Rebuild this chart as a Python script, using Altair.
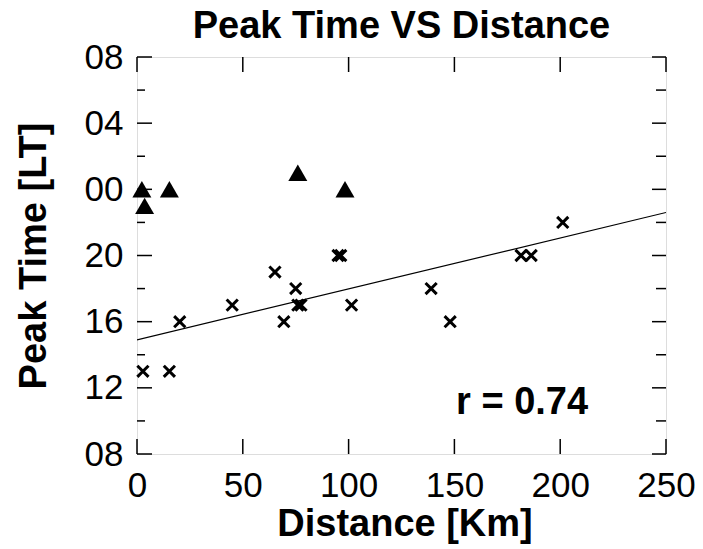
import altair as alt
import pandas as pd

# Crosses: distance [km], peak time [h, continuous from 08 to 32 = next-day 08]
cross_x = [2.8, 15.3, 20.2, 45.0, 65.2, 69.4, 75.0, 76.0, 77.5, 95.0, 96.3, 101.4, 139.0, 148.0, 181.5, 186.3, 201.2]
cross_y = [13, 13, 16, 17, 19, 16, 18, 17, 17, 20, 20, 17, 18, 16, 20, 20, 22]

# Triangles
tri_x = [2.3, 3.6, 15.3, 76.0, 98.3]
tri_y = [24, 23, 24, 25, 24]

# Regression line end points (as read)
line_x = [0, 250]
line_y = [14.9, 22.6]

# Tick values
x_tick_values = [0, 50, 100, 150, 200, 250]
y_major_values = [8, 12, 16, 20, 24, 28, 32]
y_minor_values = [10, 14, 18, 22, 26, 30]

# Annotation
ann_x = [182]
ann_y = [11.1]
ann_text = ["r = 0.74"]

W, H = 529, 397
FONT = "Liberation Sans"

xs = alt.Scale(domain=[0, 250], nice=False, zero=False)
ys = alt.Scale(domain=[8, 32], nice=False, zero=False)

cross_df = pd.DataFrame({"d": cross_x, "t": cross_y})
tri_df = pd.DataFrame({"d": tri_x, "t": tri_y})
line_df = pd.DataFrame({"d": line_x, "t": line_y})
ymaj_df = pd.DataFrame({"t": y_major_values})
ymin_df = pd.DataFrame({"t": y_minor_values})
xt_df = pd.DataFrame({"d": x_tick_values})
ann_df = pd.DataFrame({"d": ann_x, "t": ann_y, "s": ann_text})

xaxis = alt.Axis(values=x_tick_values, grid=False, ticks=False, domain=False,
                 labelFont=FONT, labelFontSize=35, labelColor="black", labelPadding=14,
                 labelFlush=False, title="Distance [Km]", titleFont=FONT, titleFontSize=38,
                 titleFontWeight="bold", titleColor="black", titleX=W / 2 + 3, titleY=81,
                 titleBaseline="alphabetic", titleAlign="center")
yaxis = alt.Axis(values=y_major_values, grid=False, ticks=False, domain=False,
                 labelFont=FONT, labelFontSize=35, labelColor="black", labelPadding=14,
                 labelFlush=False,
                 labelExpr="(datum.value % 24 < 10 ? '0' : '') + (datum.value % 24)",
                 title="Peak Time [LT]", titleFont=FONT, titleFontSize=38,
                 titleFontWeight="bold", titleColor="black", titleX=-103, titleY=H / 2,
                 titleBaseline="middle", titleAlign="center", titleAngle=270)

base_x = alt.X("d:Q", scale=xs, axis=xaxis)
base_y = alt.Y("t:Q", scale=ys, axis=yaxis)

line = alt.Chart(line_df).mark_line(color="black", strokeWidth=1.2, clip=True).encode(x=base_x, y=base_y)

crosses = alt.Chart(cross_df).mark_point(
    shape="M-1,-1L1,1M-1,1L1,-1", filled=False, stroke="black", strokeWidth=3,
    size=125, opacity=1).encode(x=alt.X("d:Q", scale=xs), y=alt.Y("t:Q", scale=ys))

tris = alt.Chart(tri_df).mark_point(
    shape="triangle-up", filled=True, color="black", size=360, opacity=1
).encode(x=alt.X("d:Q", scale=xs), y=alt.Y("t:Q", scale=ys))

ymaj_l = alt.Chart(ymaj_df).mark_rule(color="black", strokeWidth=1.5).encode(
    y=alt.Y("t:Q", scale=ys), x=alt.value(0), x2=alt.value(15))
ymaj_r = alt.Chart(ymaj_df).mark_rule(color="black", strokeWidth=1.5).encode(
    y=alt.Y("t:Q", scale=ys), x=alt.value(W - 14), x2=alt.value(W))
ymin_l = alt.Chart(ymin_df).mark_rule(color="black", strokeWidth=1.5).encode(
    y=alt.Y("t:Q", scale=ys), x=alt.value(0), x2=alt.value(8))
ymin_r = alt.Chart(ymin_df).mark_rule(color="black", strokeWidth=1.5).encode(
    y=alt.Y("t:Q", scale=ys), x=alt.value(W - 10), x2=alt.value(W))
xt_b = alt.Chart(xt_df).mark_rule(color="black", strokeWidth=1.5).encode(
    x=alt.X("d:Q", scale=xs), y=alt.value(H - 15), y2=alt.value(H))
xt_t = alt.Chart(xt_df).mark_rule(color="black", strokeWidth=1.5).encode(
    x=alt.X("d:Q", scale=xs), y=alt.value(0), y2=alt.value(15))

ann = alt.Chart(ann_df).mark_text(font=FONT, fontSize=38, fontWeight="bold", color="black",
                                  align="center", baseline="middle").encode(
    x=alt.X("d:Q", scale=xs), y=alt.Y("t:Q", scale=ys), text="s:N")

chart = alt.layer(line, ymaj_l, ymaj_r, ymin_l, ymin_r, xt_b, xt_t, crosses, tris, ann).properties(
    width=W, height=H,
    title=alt.TitleParams("Peak Time VS Distance", font=FONT, fontSize=38, fontWeight="bold",
                          color="black", anchor="middle", offset=0, dy=6),
    autosize=alt.AutoSizeParams(type="none"),
    padding={"left": 137, "top": 57, "right": 37, "bottom": 95},
).configure_view(stroke="black", strokeWidth=2.5).configure(background="white")

chart.save("out.html", embed_options={"renderer": "svg", "actions": False})
